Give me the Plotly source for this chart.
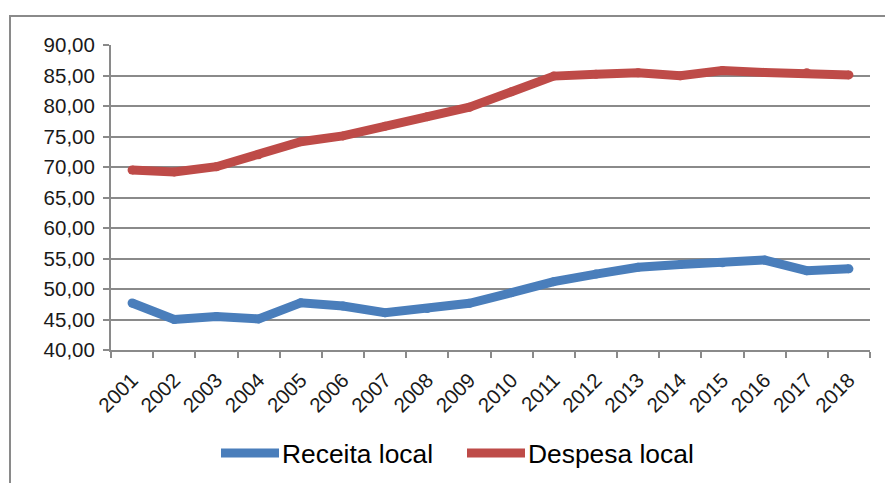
import plotly.graph_objects as go

years = [str(y) for y in range(2001, 2019)]
receita_local = [47.7, 45.0, 45.5, 45.1, 47.75, 47.2, 46.1, 46.8, 47.65, 49.4,
                 51.2, 52.45, 53.55, 54.0, 54.3, 54.75, 53.0, 53.3]
despesa_local = [69.5, 69.2, 70.05, 72.0, 74.15, 75.1, 76.7, 78.25, 79.8, 82.35,
                 84.9, 85.2, 85.45, 84.95, 85.8, 85.5, 85.45, 85.1]
series_names = ["Receita local", "Despesa local"]
series_colors = ["#4A7EBB", "#BE4B48"]
y_ticks = [40, 45, 50, 55, 60, 65, 70, 75, 80, 85, 90]
y_tick_labels = [f"{v:.2f}".replace(".", ",") for v in y_ticks]

W, H = 885, 483
L, R, T, B = 111, 15, 45, 133
PW, PH = W - L - R, H - T - B

def px_x(px):
    return (px - L) / PW

def px_y(py):
    return (H - B - py) / PH

FONT = "Liberation Sans, Arial, sans-serif"
GRID = "#8a8a8a"
TXT = "#1a1a1a"

fig = go.Figure()
for name, vals, col in zip(series_names, [receita_local, despesa_local], series_colors):
    fig.add_trace(go.Scatter(
        x=years, y=vals, name=name, mode="lines+markers",
        line=dict(color=col, width=9),
        marker=dict(color=col, size=9, line=dict(width=0)),
        showlegend=False, hoverinfo="skip",
    ))

shapes = []
# chart border (left and top edges visible)
shapes.append(dict(
    type="path", xref="paper", yref="paper",
    path=f"M {px_x(10)} {px_y(500)} L {px_x(10)} {px_y(16)} L {px_x(900)} {px_y(16)}",
    line=dict(color=GRID, width=2),
))

annotations = []
legend_pos = [(221, 279, 280), (467, 525, 526)]
ly = 453
for (x0, x1, tx), name, col in zip(legend_pos, series_names, series_colors):
    shapes.append(dict(type="line", xref="paper", yref="paper",
                       x0=px_x(x0), x1=px_x(x1), y0=px_y(ly), y1=px_y(ly),
                       line=dict(color=col, width=9)))
    annotations.append(dict(x=px_x(tx), y=px_y(ly + 1), xref="paper", yref="paper",
                            text=name, showarrow=False, xanchor="left", yanchor="middle",
                            font=dict(family=FONT, size=26.4, color="#000000")))

fig.update_layout(
    width=W, height=H,
    margin=dict(l=L, r=R, t=T, b=B, autoexpand=False),
    paper_bgcolor="white", plot_bgcolor="white",
    font=dict(family=FONT, size=20, color=TXT),
    shapes=shapes, annotations=annotations,
    showlegend=False,
)
fig.update_xaxes(
    type="category", range=[-0.5, len(years) - 0.5], autorange=False,
    tickangle=-45, tickson="boundaries",
    ticks="outside", ticklen=6, tickcolor=GRID, tickwidth=2,
    showline=True, linecolor=GRID, linewidth=2,
    showgrid=False, zeroline=False, ticklabelstandoff=8,
    tickfont=dict(family=FONT, size=20.5, color=TXT),
)
fig.update_yaxes(
    range=[40, 90], tickvals=y_ticks, ticktext=y_tick_labels,
    ticks="outside", ticklen=6, tickcolor=GRID, tickwidth=2,
    showline=True, linecolor=GRID, linewidth=2,
    showgrid=True, gridcolor=GRID, gridwidth=2, zeroline=False,
    ticklabelstandoff=4,
    tickfont=dict(family=FONT, size=20.5, color=TXT),
)

fig.write_html("out.html", config={"displayModeBar": False},
               post_script="document.body.style.margin='0';")
